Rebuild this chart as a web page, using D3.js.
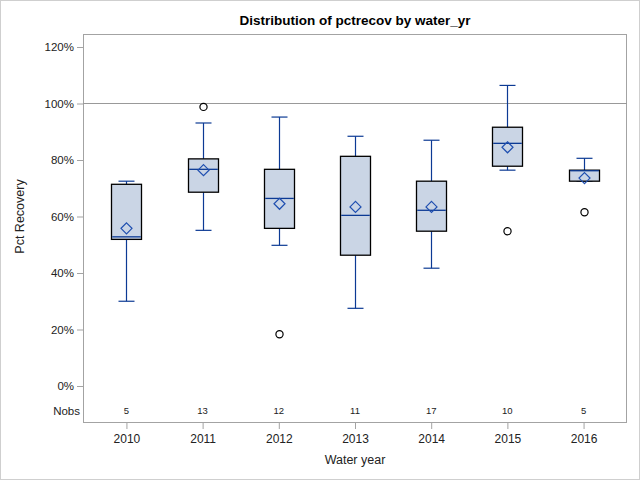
<!DOCTYPE html>
<html><head><meta charset="utf-8">
<script src="https://cdn.jsdelivr.net/npm/d3@7"></script>
<style>body{margin:0;background:#fff}svg{display:block}text{font-family:"Liberation Sans",Arial,sans-serif}</style>
</head><body>
<script>
const years = ["2010","2011","2012","2013","2014","2015","2016"];
const whiskerLow  = [30.0, 55.1, 49.8, 27.5, 41.7, 76.4, 72.5];
const q1          = [51.9, 68.6, 55.8, 46.3, 54.8, 77.8, 72.5];
const median      = [52.8, 76.7, 66.4, 60.4, 62.2, 85.9, 76.2];
const q3          = [71.4, 80.4, 76.7, 81.3, 72.5, 91.6, 76.4];
const whiskerHigh = [72.5, 93.1, 95.2, 88.4, 87.0, 106.4, 80.6];
const means       = [55.8, 76.4, 64.5, 63.4, 63.4, 84.5, 73.6];
const outliers    = [[], [98.8], [18.3], [], [], [54.8], [61.5]];
const nobs        = [5, 13, 12, 11, 17, 10, 5];
const yTicks      = [0, 20, 40, 60, 80, 100, 120];

const W = 640, H = 480;
const L = 83, R = 627, T = 34, B = 423;
const blue = "#0c3a94", fill = "#cad5e5", frameC = "#a3a3a3";

const svg = d3.select("body").append("svg").attr("width", W).attr("height", H);
svg.append("rect").attr("x",0.5).attr("y",0.5).attr("width",W-1).attr("height",H-1)
  .attr("fill","#fff").attr("stroke","#cfcfcf");

const x = d3.scalePoint().domain(years).range([L, R]).padding(0.57);
const y = d3.scaleLinear().domain([0, 120]).range([386, 47]);

// title
svg.append("text").attr("x", (L+R)/2).attr("y", 25).attr("text-anchor","middle")
  .attr("font-size", 13.5).attr("font-weight","bold").text("Distribution of pctrecov by water_yr");

// axes
const yAxis = d3.axisLeft(y).tickValues(yTicks).tickSize(6).tickPadding(3).tickFormat(d => d + "%");
const gy = svg.append("g").attr("transform", `translate(${L},0)`).call(yAxis);
gy.select(".domain").remove();
gy.selectAll("line").attr("stroke", frameC);
gy.selectAll("text").attr("font-size", 11.5).attr("fill","#222").attr("font-family",'"Liberation Sans",Arial,sans-serif');

const xAxis = d3.axisBottom(x).tickSize(6).tickPadding(5);
const gx = svg.append("g").attr("transform", `translate(0,${B})`).call(xAxis);
gx.select(".domain").remove();
gx.selectAll("line").attr("stroke", frameC);
gx.selectAll("text").attr("font-size", 12).attr("fill","#222").attr("font-family",'"Liberation Sans",Arial,sans-serif');

// frame
svg.append("rect").attr("x", L+0.5).attr("y", T+0.5).attr("width", R-L-1).attr("height", B-T-1)
  .attr("fill","none").attr("stroke", frameC);

// reference line
svg.append("line").attr("x1", L).attr("x2", R).attr("y1", Math.round(y(100))+0.5).attr("y2", Math.round(y(100))+0.5)
  .attr("stroke", "#999");

// axis labels
svg.append("text").attr("transform", `translate(24,${(47+386)/2}) rotate(-90)`).attr("text-anchor","middle")
  .attr("font-size", 12.5).attr("fill","#222").text("Pct Recovery");
svg.append("text").attr("x", (L+R)/2).attr("y", 464).attr("text-anchor","middle")
  .attr("font-size", 12.5).attr("fill","#222").text("Water year");

// Nobs
svg.append("text").attr("x", 80).attr("y", 415).attr("text-anchor","end")
  .attr("font-size", 11.5).attr("fill","#222").text("Nobs");
svg.selectAll("text.nobs").data(years).enter().append("text").attr("class","nobs")
  .attr("x", d => x(d)).attr("y", 414).attr("text-anchor","middle").attr("font-size", 9.5).attr("fill","#222")
  .text((d,i) => nobs[i]);

const bw = 30, cw = 16;
const g = svg.append("g");
years.forEach((yr, i) => {
  const cx = Math.round(x(yr)) + 0.5;
  // whiskers
  g.append("line").attr("x1",cx).attr("x2",cx).attr("y1",y(q3[i])).attr("y2",y(whiskerHigh[i])).attr("stroke",blue).attr("stroke-width",1.2);
  g.append("line").attr("x1",cx).attr("x2",cx).attr("y1",y(q1[i])).attr("y2",y(whiskerLow[i])).attr("stroke",blue).attr("stroke-width",1.2);
  g.append("line").attr("x1",cx-cw/2).attr("x2",cx+cw/2).attr("y1",y(whiskerHigh[i])).attr("y2",y(whiskerHigh[i])).attr("stroke",blue).attr("stroke-width",1.2);
  g.append("line").attr("x1",cx-cw/2).attr("x2",cx+cw/2).attr("y1",y(whiskerLow[i])).attr("y2",y(whiskerLow[i])).attr("stroke",blue).attr("stroke-width",1.2);
  // box
  g.append("rect").attr("x", cx-bw/2).attr("y", y(q3[i])).attr("width", bw).attr("height", y(q1[i]) - y(q3[i]))
    .attr("fill", fill).attr("stroke", "#000").attr("stroke-width", 1.3);
  // median
  g.append("line").attr("x1",cx-bw/2+0.7).attr("x2",cx+bw/2-0.7).attr("y1",y(median[i])).attr("y2",y(median[i])).attr("stroke",blue).attr("stroke-width",1.3);
  // mean diamond
  const my = y(means[i]), s = 5.5;
  g.append("path").attr("d", `M${cx},${my-s}L${cx+s},${my}L${cx},${my+s}L${cx-s},${my}Z`)
    .attr("fill","none").attr("stroke", "#1f4fb0").attr("stroke-width",1.2);
  // outliers
  outliers[i].forEach(v => {
    g.append("circle").attr("cx", cx).attr("cy", y(v)).attr("r", 3.6).attr("fill","none").attr("stroke","#000").attr("stroke-width",1.2);
  });
});
</script>
</body></html>
